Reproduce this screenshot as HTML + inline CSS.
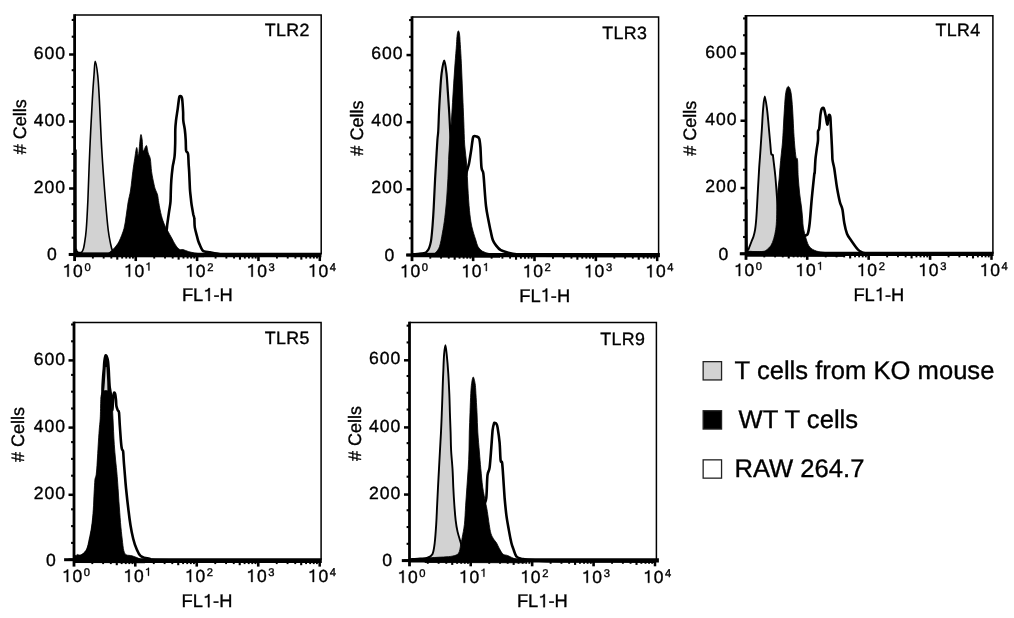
<!DOCTYPE html>
<html><head><meta charset="utf-8"><title>TLR expression histograms</title>
<style>
html,body{margin:0;padding:0;background:#fff;overflow:hidden;}
svg{display:block;will-change:transform;}
text{font-family:"Liberation Sans", sans-serif;fill:#000;stroke:#000;stroke-width:0.35px;}
</style></head>
<body>
<svg width="1014" height="618" viewBox="0 0 1014 618" text-rendering="geometricPrecision">
<defs><path id="g1" d="M360 0L360-709L290-709C276-652 230-602 108-592L108-516C194-520 240-538 277-562L277 0Z" fill="#000" stroke="#000"/></defs>
<rect width="1014" height="618" fill="#fff"/>
<path d="M75.9 150.0 C75.9 165.0 75.9 223.4 76.0 240.0 C76.0 256.6 76.1 247.5 76.4 249.5 C76.7 251.5 77.2 251.6 77.8 252.1 C78.4 252.6 79.3 252.7 80.0 252.6 C80.7 252.5 81.4 252.3 82.0 251.7 C82.6 251.1 83.0 250.1 83.4 248.8 C83.8 247.5 83.9 247.1 84.4 244.0 C84.9 240.9 85.6 237.3 86.2 230.0 C86.8 222.7 87.3 213.3 87.9 200.0 C88.5 186.7 89.0 166.9 89.8 150.0 C90.5 133.1 91.7 111.0 92.4 98.5 C93.1 86.0 93.5 81.2 94.0 75.0 C94.5 68.8 94.6 61.3 95.2 61.3 C95.8 61.3 97.0 68.8 97.7 75.0 C98.4 81.2 98.6 86.0 99.3 98.5 C100.0 111.0 100.8 133.1 101.8 150.0 C102.8 166.9 104.3 186.7 105.4 200.0 C106.5 213.3 107.3 222.7 108.2 230.0 C109.1 237.3 109.9 240.5 110.6 244.0 C111.3 247.5 111.8 249.4 112.6 251.0 C113.4 252.6 115.0 252.9 115.5 253.3 L75.9 253.3Z" fill="#d2d2d2" stroke="#000" stroke-width="1.6" stroke-linejoin="round"/>
<path d="M160.0 250.0 C160.7 248.3 162.9 243.2 164.0 240.0 C165.1 236.8 165.9 233.2 166.5 230.6 C167.1 227.9 166.9 227.1 167.3 224.1 C167.7 221.1 168.5 215.7 168.9 212.8 C169.3 210.0 169.5 208.9 169.8 207.0 C170.1 205.1 170.3 204.0 170.5 201.5 C170.7 199.0 170.7 195.5 170.8 192.0 C170.9 188.5 171.0 184.6 171.3 180.5 C171.6 176.4 172.2 170.6 172.6 167.5 C173.0 164.4 173.3 163.9 173.6 162.0 C173.9 160.1 174.3 159.2 174.6 156.0 C174.9 152.8 175.1 147.4 175.2 143.0 C175.3 138.6 175.2 133.2 175.3 129.5 C175.4 125.8 175.6 124.2 176.0 120.6 C176.4 117.0 177.4 111.4 177.8 108.1 C178.2 104.8 178.4 102.9 178.7 101.0 C179.0 99.1 179.1 97.2 179.5 96.5 C179.9 95.8 180.9 96.0 181.3 96.5 C181.8 97.0 181.9 96.7 182.2 99.2 C182.5 101.7 182.9 108.1 183.1 111.7 C183.3 115.3 183.0 117.6 183.3 120.6 C183.6 123.6 184.4 126.3 184.8 129.5 C185.2 132.7 185.5 136.5 185.7 140.0 C185.9 143.5 185.8 148.5 186.1 150.6 C186.4 152.7 187.1 151.6 187.4 152.3 C187.8 153.0 188.0 152.9 188.2 155.0 C188.4 157.1 188.5 162.1 188.7 165.0 C188.9 167.9 189.0 168.5 189.2 172.4 C189.4 176.3 189.7 184.6 189.9 188.5 C190.1 192.4 190.3 193.3 190.6 196.0 C190.9 198.7 191.1 201.6 191.6 204.7 C192.1 207.8 192.9 212.2 193.3 214.5 C193.8 216.8 194.1 216.3 194.3 218.5 C194.6 220.7 194.3 224.3 194.8 227.4 C195.3 230.5 196.6 234.7 197.2 237.1 C197.8 239.5 198.0 240.4 198.6 242.0 C199.2 243.6 199.9 245.1 200.5 246.5 C201.1 247.9 201.7 249.3 202.4 250.2 C203.1 251.0 203.2 251.2 204.5 251.6 C205.8 252.0 207.9 252.1 210.0 252.4 C212.1 252.7 213.1 253.2 216.8 253.6 C220.5 254.0 214.8 254.7 232.0 255.0 C249.2 255.3 305.3 255.3 320.0 255.4" fill="none" stroke="#000" stroke-width="2.6" stroke-linejoin="round"/>
<path d="M104.0 256.5 C105.0 255.8 108.2 253.5 110.0 252.0 C111.8 250.5 113.1 249.5 114.6 247.7 C116.1 245.9 117.5 244.5 119.1 241.3 C120.7 238.1 122.8 232.8 124.0 228.5 C125.2 224.2 125.5 219.9 126.2 215.6 C126.9 211.3 127.3 207.1 128.0 202.8 C128.7 198.5 129.8 195.2 130.6 190.0 C131.4 184.8 132.1 176.9 132.8 171.7 C133.5 166.5 134.0 162.8 134.7 158.8 C135.3 154.8 136.1 148.0 136.7 147.5 C137.3 147.0 137.8 157.2 138.3 156.0 C138.9 154.8 139.6 143.6 140.0 140.0 C140.4 136.4 140.6 134.5 141.0 134.5 C141.4 134.5 141.8 137.2 142.2 140.0 C142.6 142.8 142.5 150.1 143.2 151.0 C143.9 151.9 145.6 145.2 146.4 145.5 C147.2 145.8 147.5 150.8 148.2 153.0 C148.8 155.2 149.7 155.7 150.3 158.8 C150.9 161.9 151.0 167.4 151.6 171.7 C152.2 176.0 153.4 181.6 154.1 184.7 C154.8 187.8 155.0 188.3 155.6 190.0 C156.2 191.7 157.1 192.9 157.6 195.0 C158.1 197.1 158.2 199.4 158.8 202.8 C159.4 206.2 160.4 211.9 161.4 215.6 C162.4 219.3 163.5 222.4 164.6 225.0 C165.7 227.6 166.6 228.8 167.8 231.0 C169.0 233.2 170.4 235.7 171.7 238.0 C173.0 240.3 174.2 243.1 175.5 245.0 C176.8 246.9 178.1 248.5 179.4 249.3 C180.7 250.1 181.7 249.2 183.2 249.6 C184.7 250.0 186.4 250.9 188.3 251.5 C190.2 252.1 192.8 252.6 194.7 253.0 C196.6 253.4 198.4 253.4 200.0 254.0 C201.6 254.6 203.3 256.2 204.0 256.7Z" fill="#000" stroke="#000" stroke-width="0.8" stroke-linejoin="round"/>
<path d="M74.6 14.95H321.2V254.45" fill="none" stroke="#000" stroke-width="1.5"/>
<path d="M74.6 14.2V261.05" stroke="#000" stroke-width="2.8"/>
<path d="M68.7 254.45H74.6" stroke="#000" stroke-width="3.0"/>
<path d="M74.6 255.05H321.4" stroke="#000" stroke-width="4.4"/>
<path d="M69.1 254.45H74.6" stroke="#000" stroke-width="2.5"/>
<path d="M71.7 237.7H74.6" stroke="#000" stroke-width="2.1"/>
<path d="M71.7 220.95H74.6" stroke="#000" stroke-width="2.1"/>
<path d="M71.7 204.2H74.6" stroke="#000" stroke-width="2.1"/>
<path d="M69.1 188.5H74.6" stroke="#000" stroke-width="2.5"/>
<path d="M71.7 170.7H74.6" stroke="#000" stroke-width="2.1"/>
<path d="M71.7 153.95H74.6" stroke="#000" stroke-width="2.1"/>
<path d="M71.7 137.2H74.6" stroke="#000" stroke-width="2.1"/>
<path d="M69.1 121.5H74.6" stroke="#000" stroke-width="2.5"/>
<path d="M71.7 103.7H74.6" stroke="#000" stroke-width="2.1"/>
<path d="M71.7 86.95H74.6" stroke="#000" stroke-width="2.1"/>
<path d="M71.7 70.2H74.6" stroke="#000" stroke-width="2.1"/>
<path d="M69.1 54.5H74.6" stroke="#000" stroke-width="2.5"/>
<path d="M71.7 36.7H74.6" stroke="#000" stroke-width="2.1"/>
<path d="M71.7 19.95H74.6" stroke="#000" stroke-width="2.1"/>
<path d="M92.87 254.45V258.55" stroke="#000" stroke-width="1.9"/>
<path d="M103.67 254.45V258.55" stroke="#000" stroke-width="1.9"/>
<path d="M111.34 254.45V258.55" stroke="#000" stroke-width="1.9"/>
<path d="M117.28 254.45V259.65" stroke="#000" stroke-width="2.1"/>
<path d="M122.14 254.45V258.55" stroke="#000" stroke-width="1.9"/>
<path d="M126.25 254.45V258.55" stroke="#000" stroke-width="1.9"/>
<path d="M129.8 254.45V258.55" stroke="#000" stroke-width="1.9"/>
<path d="M132.94 254.45V258.55" stroke="#000" stroke-width="1.9"/>
<path d="M135.75 254.45V261.05" stroke="#000" stroke-width="2.6"/>
<path d="M154.22 254.45V258.55" stroke="#000" stroke-width="1.9"/>
<path d="M165.02 254.45V258.55" stroke="#000" stroke-width="1.9"/>
<path d="M172.69 254.45V258.55" stroke="#000" stroke-width="1.9"/>
<path d="M178.63 254.45V259.65" stroke="#000" stroke-width="2.1"/>
<path d="M183.49 254.45V258.55" stroke="#000" stroke-width="1.9"/>
<path d="M187.6 254.45V258.55" stroke="#000" stroke-width="1.9"/>
<path d="M191.15 254.45V258.55" stroke="#000" stroke-width="1.9"/>
<path d="M194.29 254.45V258.55" stroke="#000" stroke-width="1.9"/>
<path d="M197.1 254.45V261.05" stroke="#000" stroke-width="2.6"/>
<path d="M215.57 254.45V258.55" stroke="#000" stroke-width="1.9"/>
<path d="M226.37 254.45V258.55" stroke="#000" stroke-width="1.9"/>
<path d="M234.04 254.45V258.55" stroke="#000" stroke-width="1.9"/>
<path d="M239.98 254.45V259.65" stroke="#000" stroke-width="2.1"/>
<path d="M244.84 254.45V258.55" stroke="#000" stroke-width="1.9"/>
<path d="M248.95 254.45V258.55" stroke="#000" stroke-width="1.9"/>
<path d="M252.5 254.45V258.55" stroke="#000" stroke-width="1.9"/>
<path d="M255.64 254.45V258.55" stroke="#000" stroke-width="1.9"/>
<path d="M258.45 254.45V261.05" stroke="#000" stroke-width="2.6"/>
<path d="M276.92 254.45V258.55" stroke="#000" stroke-width="1.9"/>
<path d="M287.72 254.45V258.55" stroke="#000" stroke-width="1.9"/>
<path d="M295.39 254.45V258.55" stroke="#000" stroke-width="1.9"/>
<path d="M301.33 254.45V259.65" stroke="#000" stroke-width="2.1"/>
<path d="M306.19 254.45V258.55" stroke="#000" stroke-width="1.9"/>
<path d="M310.3 254.45V258.55" stroke="#000" stroke-width="1.9"/>
<path d="M313.85 254.45V258.55" stroke="#000" stroke-width="1.9"/>
<path d="M316.99 254.45V258.55" stroke="#000" stroke-width="1.9"/>
<path d="M319.8 254.45V261.05" stroke="#000" stroke-width="2.5"/>
<text transform="translate(47.1 260.02)" letter-spacing="1.0" font-size="17.6">0</text>
<text transform="translate(33.73 192.62)" letter-spacing="1.0" font-size="17.6">200</text>
<text transform="translate(33.73 125.62)" letter-spacing="1.0" font-size="17.6">400</text>
<text transform="translate(33.73 58.62)" letter-spacing="1.0" font-size="17.6">600</text>
<use href="#g1" transform="translate(62.47 276.7) scale(0.01750)" stroke-width="20.0"/>
<text transform="translate(73.11 276.7)" font-size="17.5">0</text>
<text transform="translate(84.45 270.5)" font-size="11.2">0</text>
<use href="#g1" transform="translate(123.83 276.7) scale(0.01750)" stroke-width="20.0"/>
<text transform="translate(134.46 276.7)" font-size="17.5">0</text>
<use href="#g1" transform="translate(145.37 270.5) scale(0.01120)" stroke-width="31.2"/>
<use href="#g1" transform="translate(185.18 276.7) scale(0.01750)" stroke-width="20.0"/>
<text transform="translate(195.81 276.7)" font-size="17.5">0</text>
<text transform="translate(207.15 270.5)" font-size="11.2">2</text>
<use href="#g1" transform="translate(246.52 276.7) scale(0.01750)" stroke-width="20.0"/>
<text transform="translate(257.15 276.7)" font-size="17.5">0</text>
<text transform="translate(268.5 270.5)" font-size="11.2">3</text>
<use href="#g1" transform="translate(307.88 276.7) scale(0.01750)" stroke-width="20.0"/>
<text transform="translate(318.5 276.7)" font-size="17.5">0</text>
<text transform="translate(329.85 270.5)" font-size="11.2">4</text>
<text transform="translate(181.88 301)" font-size="18.3">FL</text>
<use href="#g1" transform="translate(203.24 301) scale(0.01830)" stroke-width="19.1"/>
<text transform="translate(213.41 301)" font-size="18.3">-H</text>
<text transform="translate(26 126.85) rotate(-90)" text-anchor="middle" font-size="18">#&#160;Cells</text>
<text transform="translate(309.89 36.15)" text-anchor="end" letter-spacing="0.4" font-size="17.8">TLR2</text>
<path d="M413.0 254.2 C414.2 254.1 418.0 253.9 420.0 253.7 C422.0 253.5 423.8 253.3 425.0 252.9 C426.2 252.5 426.4 252.0 427.0 251.3 C427.6 250.6 428.4 249.6 428.9 248.5 C429.4 247.4 429.8 246.1 430.2 244.5 C430.6 242.9 430.9 242.1 431.3 238.8 C431.7 235.6 432.2 230.2 432.6 225.0 C433.0 219.8 433.3 215.5 433.7 207.8 C434.1 200.1 434.7 185.9 435.1 178.8 C435.5 171.7 435.5 171.7 435.9 165.2 C436.3 158.7 437.0 145.6 437.4 140.0 C437.8 134.4 437.9 136.2 438.2 131.6 C438.5 127.0 438.7 118.7 439.0 112.2 C439.3 105.7 439.7 99.3 440.1 92.8 C440.5 86.3 440.9 78.8 441.6 73.4 C442.3 68.0 443.4 60.5 444.2 60.5 C445.0 60.5 445.9 68.0 446.5 73.4 C447.1 78.8 447.4 86.3 447.9 92.8 C448.3 99.3 448.8 105.7 449.2 112.2 C449.6 118.7 449.9 125.3 450.2 131.6 C450.5 137.9 450.7 141.9 451.0 150.0 C451.3 158.1 451.7 170.0 452.0 180.0 C452.3 190.0 452.5 200.0 453.0 210.0 C453.5 220.0 454.2 233.0 455.0 240.0 C455.8 247.0 456.8 249.8 458.0 252.0 C459.2 254.2 461.3 253.2 462.0 253.5Z" fill="#d2d2d2" stroke="#000" stroke-width="2.2" stroke-linejoin="round"/>
<path d="M462.0 200.0 C462.7 195.8 464.9 180.8 466.0 175.0 C467.1 169.2 468.0 167.7 468.6 165.3 C469.2 162.9 469.1 163.5 469.5 160.8 C469.9 158.2 470.8 152.8 471.3 149.4 C471.8 146.0 472.1 142.6 472.5 140.4 C472.9 138.2 472.8 137.2 473.5 136.5 C474.2 135.8 475.6 136.2 476.5 136.5 C477.4 136.8 478.6 136.8 479.2 138.6 C479.8 140.4 480.0 142.4 480.4 147.2 C480.8 152.0 481.0 163.2 481.5 167.5 C482.0 171.8 482.8 169.8 483.3 173.2 C483.8 176.6 484.1 182.4 484.5 187.9 C484.9 193.4 485.4 200.7 486.0 206.0 C486.6 211.3 487.5 215.4 488.3 219.6 C489.1 223.8 489.9 227.5 490.6 230.9 C491.4 234.3 491.9 237.6 492.8 240.0 C493.7 242.4 494.9 243.9 496.2 245.6 C497.5 247.3 498.9 249.1 500.8 250.2 C502.7 251.3 504.9 251.7 507.5 252.4 C510.1 253.1 511.2 253.9 516.6 254.4 C522.0 254.9 516.6 255.3 540.0 255.6 C563.4 255.9 637.5 255.9 657.0 256.0" fill="none" stroke="#000" stroke-width="2.6" stroke-linejoin="round"/>
<path d="M430.0 257.0 C430.9 256.2 434.1 254.1 435.7 252.4 C437.3 250.7 438.4 249.8 439.5 246.6 C440.6 243.4 441.5 237.8 442.4 233.0 C443.3 228.2 444.1 223.3 444.8 217.5 C445.5 211.7 446.2 204.5 446.7 198.1 C447.2 191.7 447.6 185.2 447.9 178.8 C448.2 172.4 448.3 165.5 448.6 159.4 C448.9 153.3 449.2 148.2 449.6 142.0 C450.1 135.8 450.8 128.5 451.3 121.9 C451.8 115.3 452.1 109.0 452.5 102.5 C452.9 96.0 453.3 89.5 453.7 83.1 C454.1 76.6 454.5 70.2 455.0 63.8 C455.5 57.3 456.2 48.9 456.5 44.4 C456.8 39.9 456.8 38.5 457.0 36.5 C457.2 34.5 457.4 33.2 457.6 32.3 C457.8 31.4 458.1 30.9 458.4 30.9 C458.7 30.9 459.0 31.4 459.2 32.3 C459.4 33.2 459.6 34.5 459.8 36.5 C460.0 38.5 460.0 39.9 460.3 44.4 C460.6 48.9 461.1 57.3 461.4 63.8 C461.7 70.2 461.9 76.6 462.2 83.1 C462.5 89.5 462.7 96.0 463.0 102.5 C463.3 109.0 463.5 114.8 463.8 121.9 C464.1 129.0 464.2 137.8 464.7 145.0 C465.2 152.2 466.3 158.2 466.8 165.3 C467.3 172.5 467.4 180.4 467.9 187.9 C468.3 195.4 468.9 204.6 469.5 210.6 C470.1 216.6 470.6 220.2 471.3 224.0 C472.0 227.8 472.9 230.5 473.6 233.2 C474.4 235.9 475.1 237.7 475.8 240.0 C476.6 242.3 477.0 244.9 478.1 246.8 C479.2 248.7 480.7 250.2 482.6 251.3 C484.5 252.4 487.3 253.1 489.4 253.6 C491.5 254.1 493.2 253.9 495.0 254.5 C496.8 255.1 499.2 256.8 500.0 257.2Z" fill="#000" stroke="#000" stroke-width="0.8" stroke-linejoin="round"/>
<path d="M412 17.05H658.6V255" fill="none" stroke="#000" stroke-width="1.5"/>
<path d="M412 16.3V261.13" stroke="#000" stroke-width="2.8"/>
<path d="M406.2 255H412" stroke="#000" stroke-width="3.0"/>
<path d="M412 255.13H659.9" stroke="#000" stroke-width="4.1"/>
<path d="M406.5 255H412" stroke="#000" stroke-width="2.5"/>
<path d="M409.1 238.22H412" stroke="#000" stroke-width="2.1"/>
<path d="M409.1 221.44H412" stroke="#000" stroke-width="2.1"/>
<path d="M409.1 204.66H412" stroke="#000" stroke-width="2.1"/>
<path d="M406.5 189.3H412" stroke="#000" stroke-width="2.5"/>
<path d="M409.1 171.09H412" stroke="#000" stroke-width="2.1"/>
<path d="M409.1 154.31H412" stroke="#000" stroke-width="2.1"/>
<path d="M409.1 137.53H412" stroke="#000" stroke-width="2.1"/>
<path d="M406.5 122.18H412" stroke="#000" stroke-width="2.5"/>
<path d="M409.1 103.97H412" stroke="#000" stroke-width="2.1"/>
<path d="M409.1 87.19H412" stroke="#000" stroke-width="2.1"/>
<path d="M409.1 70.41H412" stroke="#000" stroke-width="2.1"/>
<path d="M406.5 55.05H412" stroke="#000" stroke-width="2.5"/>
<path d="M409.1 36.84H412" stroke="#000" stroke-width="2.1"/>
<path d="M409.1 20.06H412" stroke="#000" stroke-width="2.1"/>
<path d="M430.27 255V258.63" stroke="#000" stroke-width="1.9"/>
<path d="M441.07 255V258.63" stroke="#000" stroke-width="1.9"/>
<path d="M448.74 255V258.63" stroke="#000" stroke-width="1.9"/>
<path d="M454.68 255V259.73" stroke="#000" stroke-width="2.1"/>
<path d="M459.54 255V258.63" stroke="#000" stroke-width="1.9"/>
<path d="M463.65 255V258.63" stroke="#000" stroke-width="1.9"/>
<path d="M467.2 255V258.63" stroke="#000" stroke-width="1.9"/>
<path d="M470.34 255V258.63" stroke="#000" stroke-width="1.9"/>
<path d="M473.15 255V261.13" stroke="#000" stroke-width="2.6"/>
<path d="M491.62 255V258.63" stroke="#000" stroke-width="1.9"/>
<path d="M502.42 255V258.63" stroke="#000" stroke-width="1.9"/>
<path d="M510.09 255V258.63" stroke="#000" stroke-width="1.9"/>
<path d="M516.03 255V259.73" stroke="#000" stroke-width="2.1"/>
<path d="M520.89 255V258.63" stroke="#000" stroke-width="1.9"/>
<path d="M525 255V258.63" stroke="#000" stroke-width="1.9"/>
<path d="M528.55 255V258.63" stroke="#000" stroke-width="1.9"/>
<path d="M531.69 255V258.63" stroke="#000" stroke-width="1.9"/>
<path d="M534.5 255V261.13" stroke="#000" stroke-width="2.6"/>
<path d="M552.97 255V258.63" stroke="#000" stroke-width="1.9"/>
<path d="M563.77 255V258.63" stroke="#000" stroke-width="1.9"/>
<path d="M571.44 255V258.63" stroke="#000" stroke-width="1.9"/>
<path d="M577.38 255V259.73" stroke="#000" stroke-width="2.1"/>
<path d="M582.24 255V258.63" stroke="#000" stroke-width="1.9"/>
<path d="M586.35 255V258.63" stroke="#000" stroke-width="1.9"/>
<path d="M589.9 255V258.63" stroke="#000" stroke-width="1.9"/>
<path d="M593.04 255V258.63" stroke="#000" stroke-width="1.9"/>
<path d="M595.85 255V261.13" stroke="#000" stroke-width="2.6"/>
<path d="M614.32 255V258.63" stroke="#000" stroke-width="1.9"/>
<path d="M625.12 255V258.63" stroke="#000" stroke-width="1.9"/>
<path d="M632.79 255V258.63" stroke="#000" stroke-width="1.9"/>
<path d="M638.73 255V259.73" stroke="#000" stroke-width="2.1"/>
<path d="M643.59 255V258.63" stroke="#000" stroke-width="1.9"/>
<path d="M647.7 255V258.63" stroke="#000" stroke-width="1.9"/>
<path d="M651.25 255V258.63" stroke="#000" stroke-width="1.9"/>
<path d="M654.39 255V258.63" stroke="#000" stroke-width="1.9"/>
<path d="M657.2 255V261.13" stroke="#000" stroke-width="2.5"/>
<text transform="translate(384.4 260.92)" letter-spacing="1.0" font-size="17.6">0</text>
<text transform="translate(371.23 193.42)" letter-spacing="1.0" font-size="17.6">200</text>
<text transform="translate(371.23 126.3)" letter-spacing="1.0" font-size="17.6">400</text>
<text transform="translate(371.23 59.17)" letter-spacing="1.0" font-size="17.6">600</text>
<use href="#g1" transform="translate(399.88 277.25) scale(0.01750)" stroke-width="20.0"/>
<text transform="translate(410.5 277.25)" font-size="17.5">0</text>
<text transform="translate(421.85 271.05)" font-size="11.2">0</text>
<use href="#g1" transform="translate(461.23 277.25) scale(0.01750)" stroke-width="20.0"/>
<text transform="translate(471.86 277.25)" font-size="17.5">0</text>
<use href="#g1" transform="translate(482.77 271.05) scale(0.01120)" stroke-width="31.2"/>
<use href="#g1" transform="translate(522.58 277.25) scale(0.01750)" stroke-width="20.0"/>
<text transform="translate(533.21 277.25)" font-size="17.5">0</text>
<text transform="translate(544.55 271.05)" font-size="11.2">2</text>
<use href="#g1" transform="translate(583.93 277.25) scale(0.01750)" stroke-width="20.0"/>
<text transform="translate(594.56 277.25)" font-size="17.5">0</text>
<text transform="translate(605.9 271.05)" font-size="11.2">3</text>
<use href="#g1" transform="translate(645.28 277.25) scale(0.01750)" stroke-width="20.0"/>
<text transform="translate(655.91 277.25)" font-size="17.5">0</text>
<text transform="translate(667.25 271.05)" font-size="11.2">4</text>
<text transform="translate(519.28 301.55)" font-size="18.3">FL</text>
<use href="#g1" transform="translate(540.64 301.55) scale(0.01830)" stroke-width="19.1"/>
<text transform="translate(550.81 301.55)" font-size="18.3">-H</text>
<text transform="translate(363.4 128.12) rotate(-90)" text-anchor="middle" font-size="18">#&#160;Cells</text>
<text transform="translate(647.29 39.25)" text-anchor="end" letter-spacing="0.4" font-size="17.8">TLR3</text>
<path d="M746.6 200.0 C746.6 207.7 746.6 237.7 746.9 246.0 C747.1 254.3 747.6 249.8 748.1 249.8 C748.6 249.9 749.0 247.7 749.6 246.3 C750.2 244.9 750.9 243.1 751.5 241.5 C752.1 239.9 752.9 238.5 753.5 236.5 C754.1 234.5 754.6 232.6 755.1 229.6 C755.6 226.6 756.0 222.1 756.3 218.3 C756.6 214.5 756.7 211.7 757.0 207.0 C757.3 202.3 757.5 196.6 757.9 190.0 C758.3 183.4 758.8 174.4 759.2 167.4 C759.7 160.4 760.2 154.5 760.6 148.0 C761.0 141.5 761.5 135.0 761.9 128.5 C762.3 122.0 762.6 114.4 763.1 109.1 C763.6 103.8 764.1 96.4 764.8 96.4 C765.4 96.4 766.3 103.8 767.0 109.1 C767.7 114.4 768.4 122.7 768.9 128.5 C769.4 134.3 769.9 139.8 770.3 144.0 C770.7 148.2 770.8 152.0 771.2 153.8 C771.6 155.6 772.5 154.2 772.8 154.8 C773.1 155.5 772.8 154.0 773.2 157.7 C773.6 161.4 774.8 170.5 775.4 177.0 C776.0 183.5 776.5 191.0 776.9 196.5 C777.3 202.0 777.5 204.4 777.7 210.0 C777.9 215.6 778.0 223.3 778.2 230.0 C778.4 236.7 778.5 246.2 779.0 250.0 C779.5 253.8 780.7 252.1 781.0 252.5 L746.6 252.5Z" fill="#d2d2d2" stroke="#000" stroke-width="1.9" stroke-linejoin="round"/>
<path d="M800.0 240.0 C800.8 239.3 803.7 237.1 805.0 236.0 C806.3 234.9 807.0 235.9 807.8 233.7 C808.6 231.5 809.1 228.3 809.7 223.0 C810.3 217.7 810.8 209.7 811.5 201.7 C812.2 193.7 813.7 179.8 814.2 175.0 C814.7 170.2 814.5 175.2 814.7 172.7 C814.9 170.2 815.1 163.7 815.4 159.8 C815.7 155.9 816.3 152.7 816.7 149.4 C817.1 146.2 817.8 143.3 818.0 140.3 C818.2 137.3 817.8 133.2 818.0 131.3 C818.2 129.4 818.9 130.4 819.2 128.7 C819.5 127.0 819.7 123.3 819.9 120.9 C820.1 118.5 820.2 116.4 820.5 114.4 C820.8 112.5 821.1 110.2 821.6 109.2 C822.1 108.2 823.1 107.3 823.8 108.3 C824.4 109.3 824.9 112.3 825.5 115.0 C826.1 117.7 826.8 124.0 827.3 124.5 C827.8 125.0 827.9 119.6 828.2 118.0 C828.5 116.4 828.6 115.0 829.0 114.8 C829.4 114.6 830.0 114.9 830.3 117.0 C830.6 119.1 830.7 123.5 830.9 127.4 C831.1 131.3 831.4 136.0 831.6 140.3 C831.8 144.6 832.1 150.1 832.2 153.3 C832.4 156.6 832.2 157.4 832.5 159.8 C832.8 162.2 833.6 165.0 834.1 167.5 C834.6 170.0 834.7 171.5 835.2 175.0 C835.7 178.5 836.3 183.9 837.1 188.3 C837.9 192.8 838.9 198.1 839.8 201.7 C840.7 205.3 841.8 206.1 842.5 209.7 C843.2 213.2 843.5 219.0 844.3 223.0 C845.0 227.0 845.9 230.8 847.0 233.7 C848.1 236.6 849.5 238.1 851.0 240.3 C852.5 242.5 854.5 245.3 855.8 247.0 C857.1 248.7 857.3 249.4 859.0 250.5 C860.7 251.6 860.8 252.9 866.0 253.6 C871.2 254.3 869.0 254.4 890.0 254.6 C911.0 254.8 975.0 254.8 992.0 254.8" fill="none" stroke="#000" stroke-width="2.6" stroke-linejoin="round"/>
<path d="M747.0 256.3 C747.0 255.5 745.7 252.4 747.0 251.6 C748.3 250.8 752.3 251.6 755.0 251.6 C757.7 251.6 761.1 251.7 763.0 251.4 C764.9 251.1 765.1 251.0 766.4 250.0 C767.7 249.0 769.7 247.4 770.9 245.5 C772.1 243.6 772.9 241.3 773.7 238.7 C774.5 236.0 775.2 233.0 775.7 229.6 C776.2 226.2 776.4 223.0 776.6 218.3 C776.8 213.6 776.9 206.0 777.1 201.3 C777.3 196.6 777.6 193.6 777.9 190.0 C778.2 186.4 778.6 183.8 779.0 180.0 C779.4 176.2 779.6 171.8 780.0 167.4 C780.4 163.0 780.9 158.0 781.3 153.8 C781.7 149.6 782.2 146.2 782.5 142.0 C782.8 137.8 783.0 134.0 783.3 128.5 C783.6 123.0 784.0 115.1 784.4 109.1 C784.8 103.1 785.1 96.3 785.8 92.5 C786.4 88.7 787.4 86.4 788.3 86.4 C789.2 86.4 790.3 88.7 791.0 92.5 C791.7 96.3 792.2 103.1 792.6 109.1 C793.0 115.1 793.3 122.7 793.6 128.5 C793.9 134.3 794.2 139.1 794.6 144.0 C795.0 148.9 795.6 155.1 796.1 157.7 C796.6 160.3 797.1 156.4 797.5 159.6 C797.9 162.8 797.9 171.4 798.2 177.0 C798.6 182.6 799.1 188.0 799.6 193.0 C800.1 198.0 801.0 202.8 801.5 207.0 C802.0 211.2 802.3 214.8 802.6 218.3 C802.9 221.8 802.8 224.6 803.4 228.0 C804.0 231.4 805.2 235.8 806.2 239.0 C807.2 242.2 808.0 245.0 809.7 247.0 C811.4 249.0 813.8 250.1 816.3 251.0 C818.8 251.9 821.0 252.0 825.0 252.5 C829.0 253.0 836.7 253.3 840.0 254.0 C843.3 254.7 844.2 256.1 845.0 256.5Z" fill="#000" stroke="#000" stroke-width="0.8" stroke-linejoin="round"/>
<path d="M746 15.75H992.9V253.8" fill="none" stroke="#000" stroke-width="1.5"/>
<path d="M746 15V259.85" stroke="#000" stroke-width="2.8"/>
<path d="M739.8 253.8H746" stroke="#000" stroke-width="3.0"/>
<path d="M746 253.85H993.6" stroke="#000" stroke-width="4.3"/>
<path d="M740.5 253.8H746" stroke="#000" stroke-width="2.5"/>
<path d="M743.1 236.99H746" stroke="#000" stroke-width="2.1"/>
<path d="M743.1 220.18H746" stroke="#000" stroke-width="2.1"/>
<path d="M743.1 203.36H746" stroke="#000" stroke-width="2.1"/>
<path d="M740.5 188H746" stroke="#000" stroke-width="2.5"/>
<path d="M743.1 169.74H746" stroke="#000" stroke-width="2.1"/>
<path d="M743.1 152.93H746" stroke="#000" stroke-width="2.1"/>
<path d="M743.1 136.11H746" stroke="#000" stroke-width="2.1"/>
<path d="M740.5 120.75H746" stroke="#000" stroke-width="2.5"/>
<path d="M743.1 102.49H746" stroke="#000" stroke-width="2.1"/>
<path d="M743.1 85.68H746" stroke="#000" stroke-width="2.1"/>
<path d="M743.1 68.86H746" stroke="#000" stroke-width="2.1"/>
<path d="M740.5 53.5H746" stroke="#000" stroke-width="2.5"/>
<path d="M743.1 35.24H746" stroke="#000" stroke-width="2.1"/>
<path d="M743.1 18.43H746" stroke="#000" stroke-width="2.1"/>
<path d="M764.29 253.8V257.35" stroke="#000" stroke-width="1.9"/>
<path d="M775.11 253.8V257.35" stroke="#000" stroke-width="1.9"/>
<path d="M782.78 253.8V257.35" stroke="#000" stroke-width="1.9"/>
<path d="M788.73 253.8V258.45" stroke="#000" stroke-width="2.1"/>
<path d="M793.6 253.8V257.35" stroke="#000" stroke-width="1.9"/>
<path d="M797.71 253.8V257.35" stroke="#000" stroke-width="1.9"/>
<path d="M801.27 253.8V257.35" stroke="#000" stroke-width="1.9"/>
<path d="M804.41 253.8V257.35" stroke="#000" stroke-width="1.9"/>
<path d="M807.22 253.8V259.85" stroke="#000" stroke-width="2.6"/>
<path d="M825.72 253.8V257.35" stroke="#000" stroke-width="1.9"/>
<path d="M836.53 253.8V257.35" stroke="#000" stroke-width="1.9"/>
<path d="M844.21 253.8V257.35" stroke="#000" stroke-width="1.9"/>
<path d="M850.16 253.8V258.45" stroke="#000" stroke-width="2.1"/>
<path d="M855.02 253.8V257.35" stroke="#000" stroke-width="1.9"/>
<path d="M859.14 253.8V257.35" stroke="#000" stroke-width="1.9"/>
<path d="M862.7 253.8V257.35" stroke="#000" stroke-width="1.9"/>
<path d="M865.84 253.8V257.35" stroke="#000" stroke-width="1.9"/>
<path d="M868.65 253.8V259.85" stroke="#000" stroke-width="2.6"/>
<path d="M887.14 253.8V257.35" stroke="#000" stroke-width="1.9"/>
<path d="M897.96 253.8V257.35" stroke="#000" stroke-width="1.9"/>
<path d="M905.63 253.8V257.35" stroke="#000" stroke-width="1.9"/>
<path d="M911.58 253.8V258.45" stroke="#000" stroke-width="2.1"/>
<path d="M916.45 253.8V257.35" stroke="#000" stroke-width="1.9"/>
<path d="M920.56 253.8V257.35" stroke="#000" stroke-width="1.9"/>
<path d="M924.12 253.8V257.35" stroke="#000" stroke-width="1.9"/>
<path d="M927.26 253.8V257.35" stroke="#000" stroke-width="1.9"/>
<path d="M930.08 253.8V259.85" stroke="#000" stroke-width="2.6"/>
<path d="M948.57 253.8V257.35" stroke="#000" stroke-width="1.9"/>
<path d="M959.38 253.8V257.35" stroke="#000" stroke-width="1.9"/>
<path d="M967.06 253.8V257.35" stroke="#000" stroke-width="1.9"/>
<path d="M973.01 253.8V258.45" stroke="#000" stroke-width="2.1"/>
<path d="M977.87 253.8V257.35" stroke="#000" stroke-width="1.9"/>
<path d="M981.99 253.8V257.35" stroke="#000" stroke-width="1.9"/>
<path d="M985.55 253.8V257.35" stroke="#000" stroke-width="1.9"/>
<path d="M988.69 253.8V257.35" stroke="#000" stroke-width="1.9"/>
<path d="M991.5 253.8V259.85" stroke="#000" stroke-width="2.5"/>
<text transform="translate(718.4 259.82)" letter-spacing="1.0" font-size="17.6">0</text>
<text transform="translate(705.23 192.12)" letter-spacing="1.0" font-size="17.6">200</text>
<text transform="translate(705.23 124.87)" letter-spacing="1.0" font-size="17.6">400</text>
<text transform="translate(705.23 57.62)" letter-spacing="1.0" font-size="17.6">600</text>
<use href="#g1" transform="translate(733.88 276.05) scale(0.01750)" stroke-width="20.0"/>
<text transform="translate(744.5 276.05)" font-size="17.5">0</text>
<text transform="translate(755.85 269.85)" font-size="11.2">0</text>
<use href="#g1" transform="translate(795.3 276.05) scale(0.01750)" stroke-width="20.0"/>
<text transform="translate(805.93 276.05)" font-size="17.5">0</text>
<use href="#g1" transform="translate(816.85 269.85) scale(0.01120)" stroke-width="31.2"/>
<use href="#g1" transform="translate(856.73 276.05) scale(0.01750)" stroke-width="20.0"/>
<text transform="translate(867.36 276.05)" font-size="17.5">0</text>
<text transform="translate(878.7 269.85)" font-size="11.2">2</text>
<use href="#g1" transform="translate(918.15 276.05) scale(0.01750)" stroke-width="20.0"/>
<text transform="translate(928.78 276.05)" font-size="17.5">0</text>
<text transform="translate(940.13 269.85)" font-size="11.2">3</text>
<use href="#g1" transform="translate(979.58 276.05) scale(0.01750)" stroke-width="20.0"/>
<text transform="translate(990.21 276.05)" font-size="17.5">0</text>
<text transform="translate(1001.55 269.85)" font-size="11.2">4</text>
<text transform="translate(853.43 300.75)" font-size="18.3">FL</text>
<use href="#g1" transform="translate(874.79 300.75) scale(0.01830)" stroke-width="19.1"/>
<text transform="translate(884.96 300.75)" font-size="18.3">-H</text>
<text transform="translate(696.2 128.18) rotate(-90)" text-anchor="middle" font-size="18">#&#160;Cells</text>
<text transform="translate(980.59 36.45)" text-anchor="end" letter-spacing="0.4" font-size="17.8">TLR4</text>
<path d="M82.0 555.0 C82.7 554.5 84.8 553.7 86.0 552.0 C87.2 550.3 88.0 548.7 89.0 545.0 C90.0 541.3 91.0 536.7 92.0 530.0 C93.0 523.3 94.2 513.3 95.0 505.0 C95.8 496.7 96.3 488.3 97.0 480.0 C97.7 471.7 98.3 463.3 99.0 455.0 C99.7 446.7 100.4 439.2 101.0 430.0 C101.6 420.8 102.1 406.9 102.5 400.0 C102.9 393.1 103.2 392.2 103.5 388.7 C103.8 385.2 104.0 383.1 104.2 379.0 C104.5 374.9 104.8 368.0 105.0 364.4 C105.2 360.8 105.4 358.2 105.7 357.5 C106.0 356.8 106.3 357.9 106.6 360.0 C106.9 362.1 107.2 366.7 107.4 370.0 C107.6 373.3 107.8 376.3 108.0 380.0 C108.2 383.7 108.1 387.0 108.4 392.0 C108.7 397.0 109.3 402.0 109.8 410.0 C110.3 418.0 110.7 430.0 111.2 440.0 C111.7 450.0 112.2 460.0 112.8 470.0 C113.4 480.0 114.1 491.7 114.8 500.0 C115.5 508.3 116.1 513.3 116.8 520.0 C117.5 526.7 118.1 535.0 118.8 540.0 C119.5 545.0 120.1 547.5 121.0 550.0 C121.9 552.5 123.5 554.2 124.0 555.0Z" fill="#d2d2d2" stroke="#000" stroke-width="1.7" stroke-linejoin="round"/>
<path d="M103.0 430.0 C102.9 425.8 102.7 411.9 102.6 405.0 C102.5 398.1 102.4 393.3 102.5 388.7 C102.6 384.1 102.9 380.8 103.1 377.4 C103.3 373.9 103.7 370.7 103.9 368.0 C104.1 365.3 104.1 363.3 104.4 361.2 C104.7 359.1 105.1 355.9 105.6 355.3 C106.0 354.7 106.7 356.5 107.1 357.5 C107.5 358.5 107.7 359.2 108.0 361.2 C108.3 363.2 108.5 366.6 108.7 369.3 C108.9 372.0 108.9 374.6 109.1 377.4 C109.2 380.2 109.4 383.6 109.6 386.0 C109.8 388.4 110.1 389.2 110.4 391.5 C110.7 393.8 111.1 396.9 111.4 400.0 C111.7 403.1 112.0 409.5 112.2 410.0 C112.5 410.5 112.7 405.3 112.9 403.0 C113.1 400.7 113.1 397.7 113.3 396.0 C113.5 394.3 113.8 392.9 114.1 392.6 C114.4 392.4 115.0 393.3 115.3 394.5 C115.6 395.7 115.8 398.1 116.0 400.0 C116.2 401.9 116.1 404.2 116.4 405.9 C116.7 407.6 117.4 409.3 117.8 410.4 C118.2 411.5 118.7 409.9 119.0 412.4 C119.3 414.9 119.5 421.0 119.8 425.3 C120.1 429.6 120.4 434.4 120.7 438.3 C121.0 442.2 121.4 446.5 121.8 448.6 C122.2 450.8 122.8 449.3 123.1 451.2 C123.4 453.1 123.5 456.9 123.7 460.0 C123.9 463.1 124.1 465.3 124.5 470.0 C124.9 474.7 125.3 481.0 126.0 488.0 C126.7 495.0 127.9 505.8 128.7 512.0 C129.4 518.2 129.8 520.8 130.5 525.3 C131.2 529.8 132.2 534.7 133.2 538.7 C134.2 542.7 135.4 546.4 136.7 549.3 C137.9 552.2 138.7 554.5 140.7 556.0 C142.7 557.5 143.8 557.9 148.7 558.6 C153.6 559.3 141.4 559.9 170.0 560.2 C198.6 560.5 295.0 560.5 320.0 560.6" fill="none" stroke="#000" stroke-width="2.6" stroke-linejoin="round"/>
<path d="M74.0 562.5 C74.0 561.4 73.6 557.2 74.0 556.0 C74.4 554.8 75.6 555.7 76.2 555.4 C76.8 555.1 77.2 554.5 77.6 554.4 C78.0 554.3 78.3 554.9 78.8 555.0 C79.3 555.1 79.9 555.1 80.5 554.9 C81.1 554.7 81.6 555.0 82.6 554.0 C83.6 553.0 85.6 551.5 86.7 549.0 C87.8 546.5 88.4 542.9 89.2 539.1 C90.0 535.3 91.0 531.0 91.7 526.0 C92.4 521.0 92.9 514.9 93.3 509.4 C93.7 503.9 93.8 497.9 94.1 493.0 C94.4 488.1 94.6 483.1 94.9 480.0 C95.2 476.9 95.8 477.5 96.2 474.5 C96.6 471.5 96.9 466.9 97.2 462.0 C97.5 457.1 97.9 450.3 98.2 445.0 C98.5 439.7 98.9 434.4 99.2 430.0 C99.5 425.6 99.9 423.9 100.2 418.8 C100.5 413.7 100.6 403.5 100.8 399.4 C101.0 395.3 101.2 395.3 101.6 394.0 C102.0 392.7 102.3 392.1 103.0 391.5 C103.7 390.9 104.8 390.6 105.6 390.5 C106.4 390.4 107.1 390.6 108.0 391.0 C108.9 391.4 110.5 390.5 111.2 393.0 C111.9 395.5 112.1 401.6 112.4 405.9 C112.7 410.2 112.8 414.5 113.0 418.8 C113.2 423.1 113.4 427.5 113.6 431.8 C113.8 436.1 114.0 440.0 114.3 444.7 C114.6 449.4 115.1 454.7 115.6 460.0 C116.1 465.3 116.7 469.6 117.2 476.5 C117.8 483.4 118.4 493.5 118.9 501.2 C119.5 508.9 120.0 516.3 120.5 522.6 C121.0 528.9 121.7 534.4 122.2 539.1 C122.8 543.8 123.1 548.1 123.8 550.7 C124.5 553.3 124.9 553.9 126.3 554.8 C127.7 555.6 129.7 555.1 132.0 555.8 C134.3 556.5 137.8 557.8 140.0 559.0 C142.2 560.2 144.2 562.2 145.0 562.8Z" fill="#000" stroke="#000" stroke-width="0.8" stroke-linejoin="round"/>
<path d="M104.3 367 L105 359 L105.7 356.5 L106.5 359 L107.7 367 Z" fill="#000"/>
<path d="M74 322.4H321.1V559.7" fill="none" stroke="#000" stroke-width="1.5"/>
<path d="M74 321.65V566.6" stroke="#000" stroke-width="2.8"/>
<path d="M64.1 559.7H74" stroke="#000" stroke-width="3.0"/>
<path d="M74 560.6H321.8" stroke="#000" stroke-width="4.8"/>
<path d="M68.5 559.7H74" stroke="#000" stroke-width="2.5"/>
<path d="M71.1 542.9H74" stroke="#000" stroke-width="2.1"/>
<path d="M71.1 526.1H74" stroke="#000" stroke-width="2.1"/>
<path d="M71.1 509.3H74" stroke="#000" stroke-width="2.1"/>
<path d="M68.5 494.8H74" stroke="#000" stroke-width="2.5"/>
<path d="M71.1 475.7H74" stroke="#000" stroke-width="2.1"/>
<path d="M71.1 458.9H74" stroke="#000" stroke-width="2.1"/>
<path d="M71.1 442.1H74" stroke="#000" stroke-width="2.1"/>
<path d="M68.5 427.6H74" stroke="#000" stroke-width="2.5"/>
<path d="M71.1 408.5H74" stroke="#000" stroke-width="2.1"/>
<path d="M71.1 391.7H74" stroke="#000" stroke-width="2.1"/>
<path d="M71.1 374.9H74" stroke="#000" stroke-width="2.1"/>
<path d="M68.5 360.4H74" stroke="#000" stroke-width="2.5"/>
<path d="M71.1 341.3H74" stroke="#000" stroke-width="2.1"/>
<path d="M71.1 324.5H74" stroke="#000" stroke-width="2.1"/>
<path d="M92.31 559.7V564.1" stroke="#000" stroke-width="1.9"/>
<path d="M103.13 559.7V564.1" stroke="#000" stroke-width="1.9"/>
<path d="M110.81 559.7V564.1" stroke="#000" stroke-width="1.9"/>
<path d="M116.77 559.7V565.2" stroke="#000" stroke-width="2.1"/>
<path d="M121.64 559.7V564.1" stroke="#000" stroke-width="1.9"/>
<path d="M125.75 559.7V564.1" stroke="#000" stroke-width="1.9"/>
<path d="M129.32 559.7V564.1" stroke="#000" stroke-width="1.9"/>
<path d="M132.46 559.7V564.1" stroke="#000" stroke-width="1.9"/>
<path d="M135.28 559.7V566.6" stroke="#000" stroke-width="2.6"/>
<path d="M153.78 559.7V564.1" stroke="#000" stroke-width="1.9"/>
<path d="M164.61 559.7V564.1" stroke="#000" stroke-width="1.9"/>
<path d="M172.29 559.7V564.1" stroke="#000" stroke-width="1.9"/>
<path d="M178.24 559.7V565.2" stroke="#000" stroke-width="2.1"/>
<path d="M183.11 559.7V564.1" stroke="#000" stroke-width="1.9"/>
<path d="M187.23 559.7V564.1" stroke="#000" stroke-width="1.9"/>
<path d="M190.79 559.7V564.1" stroke="#000" stroke-width="1.9"/>
<path d="M193.94 559.7V564.1" stroke="#000" stroke-width="1.9"/>
<path d="M196.75 559.7V566.6" stroke="#000" stroke-width="2.6"/>
<path d="M215.26 559.7V564.1" stroke="#000" stroke-width="1.9"/>
<path d="M226.08 559.7V564.1" stroke="#000" stroke-width="1.9"/>
<path d="M233.76 559.7V564.1" stroke="#000" stroke-width="1.9"/>
<path d="M239.72 559.7V565.2" stroke="#000" stroke-width="2.1"/>
<path d="M244.59 559.7V564.1" stroke="#000" stroke-width="1.9"/>
<path d="M248.7 559.7V564.1" stroke="#000" stroke-width="1.9"/>
<path d="M252.27 559.7V564.1" stroke="#000" stroke-width="1.9"/>
<path d="M255.41 559.7V564.1" stroke="#000" stroke-width="1.9"/>
<path d="M258.23 559.7V566.6" stroke="#000" stroke-width="2.6"/>
<path d="M276.73 559.7V564.1" stroke="#000" stroke-width="1.9"/>
<path d="M287.56 559.7V564.1" stroke="#000" stroke-width="1.9"/>
<path d="M295.24 559.7V564.1" stroke="#000" stroke-width="1.9"/>
<path d="M301.19 559.7V565.2" stroke="#000" stroke-width="2.1"/>
<path d="M306.06 559.7V564.1" stroke="#000" stroke-width="1.9"/>
<path d="M310.18 559.7V564.1" stroke="#000" stroke-width="1.9"/>
<path d="M313.74 559.7V564.1" stroke="#000" stroke-width="1.9"/>
<path d="M316.89 559.7V564.1" stroke="#000" stroke-width="1.9"/>
<path d="M319.7 559.7V566.6" stroke="#000" stroke-width="2.5"/>
<text transform="translate(46 565.87)" letter-spacing="1.0" font-size="17.6">0</text>
<text transform="translate(33.63 498.92)" letter-spacing="1.0" font-size="17.6">200</text>
<text transform="translate(33.63 431.72)" letter-spacing="1.0" font-size="17.6">400</text>
<text transform="translate(33.63 364.52)" letter-spacing="1.0" font-size="17.6">600</text>
<use href="#g1" transform="translate(61.88 581.95) scale(0.01750)" stroke-width="20.0"/>
<text transform="translate(72.51 581.95)" font-size="17.5">0</text>
<text transform="translate(83.85 575.75)" font-size="11.2">0</text>
<use href="#g1" transform="translate(123.35 581.95) scale(0.01750)" stroke-width="20.0"/>
<text transform="translate(133.98 581.95)" font-size="17.5">0</text>
<use href="#g1" transform="translate(144.9 575.75) scale(0.01120)" stroke-width="31.2"/>
<use href="#g1" transform="translate(184.82 581.95) scale(0.01750)" stroke-width="20.0"/>
<text transform="translate(195.45 581.95)" font-size="17.5">0</text>
<text transform="translate(206.8 575.75)" font-size="11.2">2</text>
<use href="#g1" transform="translate(246.3 581.95) scale(0.01750)" stroke-width="20.0"/>
<text transform="translate(256.93 581.95)" font-size="17.5">0</text>
<text transform="translate(268.28 575.75)" font-size="11.2">3</text>
<use href="#g1" transform="translate(307.78 581.95) scale(0.01750)" stroke-width="20.0"/>
<text transform="translate(318.41 581.95)" font-size="17.5">0</text>
<text transform="translate(329.75 575.75)" font-size="11.2">4</text>
<text transform="translate(181.53 607.25)" font-size="18.3">FL</text>
<use href="#g1" transform="translate(202.89 607.25) scale(0.01830)" stroke-width="19.1"/>
<text transform="translate(213.06 607.25)" font-size="18.3">-H</text>
<text transform="translate(24.2 434.5) rotate(-90)" text-anchor="middle" font-size="18">#&#160;Cells</text>
<text transform="translate(309.79 344.1)" text-anchor="end" letter-spacing="0.4" font-size="17.8">TLR5</text>
<path d="M412.0 559.0 C413.3 558.9 417.5 558.7 420.0 558.5 C422.5 558.3 424.8 558.6 426.9 557.9 C429.0 557.2 431.1 556.7 432.4 554.2 C433.7 551.7 434.1 548.0 434.7 543.0 C435.3 538.0 435.8 530.6 436.2 524.4 C436.6 518.2 436.8 512.0 437.1 505.8 C437.4 499.6 437.7 493.4 438.0 487.2 C438.3 481.0 438.7 474.8 439.0 468.6 C439.3 462.4 439.7 456.1 440.0 450.0 C440.3 443.9 440.7 438.3 441.0 432.1 C441.3 425.9 441.6 419.2 441.8 412.7 C442.1 406.2 442.3 399.8 442.5 393.3 C442.7 386.8 442.9 380.3 443.2 373.8 C443.5 367.3 443.7 359.2 444.1 354.4 C444.5 349.6 445.0 345.2 445.4 345.2 C445.8 345.2 446.2 349.6 446.7 354.4 C447.2 359.2 447.9 367.3 448.3 373.8 C448.7 380.3 449.0 386.8 449.3 393.3 C449.6 399.8 449.7 406.2 449.9 412.7 C450.1 419.2 450.4 425.9 450.6 432.1 C450.8 438.3 450.8 443.9 451.1 450.0 C451.4 456.1 452.1 462.4 452.5 468.6 C452.9 474.8 453.0 481.0 453.3 487.2 C453.6 493.4 454.0 500.2 454.4 505.8 C454.8 511.4 455.2 516.4 455.7 520.7 C456.2 525.1 456.8 528.5 457.6 531.9 C458.4 535.3 459.4 538.2 460.3 541.2 C461.2 544.2 462.1 547.5 463.0 550.0 C463.9 552.5 464.8 554.7 466.0 556.0 C467.2 557.3 469.3 557.7 470.0 558.0Z" fill="#d2d2d2" stroke="#000" stroke-width="1.9" stroke-linejoin="round"/>
<path d="M480.0 520.0 C480.7 517.5 482.9 508.7 484.0 505.0 C485.1 501.3 485.7 502.8 486.3 497.8 C486.9 492.8 486.9 480.2 487.5 475.2 C488.1 470.2 489.0 472.3 489.6 467.7 C490.2 463.1 490.8 453.9 491.3 447.6 C491.8 441.3 492.2 434.1 492.6 430.1 C493.1 426.1 493.6 424.7 494.0 423.5 C494.4 422.3 494.7 422.9 495.1 423.0 C495.5 423.1 496.1 423.2 496.5 424.0 C496.9 424.8 497.1 424.5 497.6 427.6 C498.1 430.7 499.1 437.2 499.6 442.6 C500.1 448.0 500.2 456.9 500.6 460.2 C501.0 463.5 501.7 460.2 502.1 462.7 C502.5 465.2 502.7 469.3 503.1 475.2 C503.5 481.1 504.1 491.1 504.6 497.8 C505.2 504.5 505.7 510.0 506.4 515.4 C507.1 520.8 508.1 525.8 508.9 530.4 C509.7 535.0 510.6 539.6 511.4 543.0 C512.2 546.4 513.1 548.2 513.9 550.5 C514.7 552.8 515.1 555.1 516.4 556.5 C517.6 557.9 518.3 558.1 521.4 558.8 C524.5 559.4 528.8 560.0 535.2 560.4 C541.6 560.8 539.9 561.2 560.0 561.4 C580.1 561.6 640.0 561.6 656.0 561.6" fill="none" stroke="#000" stroke-width="2.6" stroke-linejoin="round"/>
<path d="M425.0 562.5 C425.0 561.9 423.4 559.8 425.0 559.0 C426.6 558.2 431.2 557.8 434.3 557.5 C437.4 557.2 440.5 557.2 443.6 557.0 C446.7 556.8 450.4 556.6 452.9 556.0 C455.4 555.4 457.2 555.1 458.5 553.3 C459.8 551.4 460.1 547.5 460.7 544.9 C461.3 542.2 461.6 540.8 462.2 537.4 C462.8 534.0 463.8 529.7 464.4 524.4 C465.0 519.1 465.2 512.0 465.6 505.8 C466.0 499.6 466.5 493.4 466.9 487.2 C467.3 481.0 467.8 474.8 468.2 468.6 C468.6 462.4 468.8 456.1 469.0 450.0 C469.2 443.9 469.1 438.2 469.3 432.0 C469.5 425.8 469.8 419.1 470.0 412.7 C470.2 406.2 470.5 398.2 470.8 393.3 C471.1 388.4 471.2 386.2 471.6 383.5 C472.0 380.8 472.6 377.0 473.2 377.0 C473.8 377.0 474.7 380.8 475.1 383.5 C475.6 386.2 475.6 388.4 475.9 393.3 C476.2 398.2 476.7 406.2 477.0 412.7 C477.3 419.2 477.4 425.6 477.8 432.1 C478.2 438.7 478.9 445.9 479.4 452.0 C479.9 458.1 480.2 462.7 480.8 468.6 C481.4 474.5 481.9 481.6 482.7 487.2 C483.5 492.8 484.7 498.1 485.5 502.1 C486.3 506.1 486.7 507.7 487.3 511.4 C487.9 515.1 488.6 520.7 489.2 524.4 C489.8 528.1 490.2 531.2 491.0 533.7 C491.8 536.2 492.9 537.8 493.8 539.3 C494.7 540.8 495.7 541.5 496.6 543.0 C497.5 544.5 498.3 546.7 499.4 548.6 C500.5 550.5 501.7 553.1 503.1 554.2 C504.5 555.4 505.6 554.7 507.6 555.5 C509.6 556.3 513.0 558.2 515.1 559.0 C517.2 559.8 518.4 559.9 520.0 560.5 C521.6 561.1 524.2 562.4 525.0 562.8Z" fill="#000" stroke="#000" stroke-width="0.8" stroke-linejoin="round"/>
<path d="M409.5 322.45H656.4V560.6" fill="none" stroke="#000" stroke-width="1.5"/>
<path d="M409.5 321.7V566.3" stroke="#000" stroke-width="2.8"/>
<path d="M401.8 560.6H409.5" stroke="#000" stroke-width="3.0"/>
<path d="M409.5 560.3H658.9" stroke="#000" stroke-width="4.3"/>
<path d="M404 560.6H409.5" stroke="#000" stroke-width="2.5"/>
<path d="M406.6 543.82H409.5" stroke="#000" stroke-width="2.1"/>
<path d="M406.6 527.04H409.5" stroke="#000" stroke-width="2.1"/>
<path d="M406.6 510.26H409.5" stroke="#000" stroke-width="2.1"/>
<path d="M404 494.55H409.5" stroke="#000" stroke-width="2.5"/>
<path d="M406.6 476.69H409.5" stroke="#000" stroke-width="2.1"/>
<path d="M406.6 459.91H409.5" stroke="#000" stroke-width="2.1"/>
<path d="M406.6 443.13H409.5" stroke="#000" stroke-width="2.1"/>
<path d="M404 427.42H409.5" stroke="#000" stroke-width="2.5"/>
<path d="M406.6 409.57H409.5" stroke="#000" stroke-width="2.1"/>
<path d="M406.6 392.79H409.5" stroke="#000" stroke-width="2.1"/>
<path d="M406.6 376.01H409.5" stroke="#000" stroke-width="2.1"/>
<path d="M404 360.3H409.5" stroke="#000" stroke-width="2.5"/>
<path d="M406.6 342.44H409.5" stroke="#000" stroke-width="2.1"/>
<path d="M406.6 325.66H409.5" stroke="#000" stroke-width="2.1"/>
<path d="M427.79 560.6V563.8" stroke="#000" stroke-width="1.9"/>
<path d="M438.61 560.6V563.8" stroke="#000" stroke-width="1.9"/>
<path d="M446.28 560.6V563.8" stroke="#000" stroke-width="1.9"/>
<path d="M452.23 560.6V564.9" stroke="#000" stroke-width="2.1"/>
<path d="M457.1 560.6V563.8" stroke="#000" stroke-width="1.9"/>
<path d="M461.21 560.6V563.8" stroke="#000" stroke-width="1.9"/>
<path d="M464.77 560.6V563.8" stroke="#000" stroke-width="1.9"/>
<path d="M467.91 560.6V563.8" stroke="#000" stroke-width="1.9"/>
<path d="M470.73 560.6V566.3" stroke="#000" stroke-width="2.6"/>
<path d="M489.22 560.6V563.8" stroke="#000" stroke-width="1.9"/>
<path d="M500.03 560.6V563.8" stroke="#000" stroke-width="1.9"/>
<path d="M507.71 560.6V563.8" stroke="#000" stroke-width="1.9"/>
<path d="M513.66 560.6V564.9" stroke="#000" stroke-width="2.1"/>
<path d="M518.52 560.6V563.8" stroke="#000" stroke-width="1.9"/>
<path d="M522.64 560.6V563.8" stroke="#000" stroke-width="1.9"/>
<path d="M526.2 560.6V563.8" stroke="#000" stroke-width="1.9"/>
<path d="M529.34 560.6V563.8" stroke="#000" stroke-width="1.9"/>
<path d="M532.15 560.6V566.3" stroke="#000" stroke-width="2.6"/>
<path d="M550.64 560.6V563.8" stroke="#000" stroke-width="1.9"/>
<path d="M561.46 560.6V563.8" stroke="#000" stroke-width="1.9"/>
<path d="M569.13 560.6V563.8" stroke="#000" stroke-width="1.9"/>
<path d="M575.08 560.6V564.9" stroke="#000" stroke-width="2.1"/>
<path d="M579.95 560.6V563.8" stroke="#000" stroke-width="1.9"/>
<path d="M584.06 560.6V563.8" stroke="#000" stroke-width="1.9"/>
<path d="M587.62 560.6V563.8" stroke="#000" stroke-width="1.9"/>
<path d="M590.76 560.6V563.8" stroke="#000" stroke-width="1.9"/>
<path d="M593.58 560.6V566.3" stroke="#000" stroke-width="2.6"/>
<path d="M612.07 560.6V563.8" stroke="#000" stroke-width="1.9"/>
<path d="M622.88 560.6V563.8" stroke="#000" stroke-width="1.9"/>
<path d="M630.56 560.6V563.8" stroke="#000" stroke-width="1.9"/>
<path d="M636.51 560.6V564.9" stroke="#000" stroke-width="2.1"/>
<path d="M641.37 560.6V563.8" stroke="#000" stroke-width="1.9"/>
<path d="M645.49 560.6V563.8" stroke="#000" stroke-width="1.9"/>
<path d="M649.05 560.6V563.8" stroke="#000" stroke-width="1.9"/>
<path d="M652.19 560.6V563.8" stroke="#000" stroke-width="1.9"/>
<path d="M655 560.6V566.3" stroke="#000" stroke-width="2.5"/>
<text transform="translate(382.2 565.87)" letter-spacing="1.0" font-size="17.6">0</text>
<text transform="translate(368.93 498.67)" letter-spacing="1.0" font-size="17.6">200</text>
<text transform="translate(368.93 431.54)" letter-spacing="1.0" font-size="17.6">400</text>
<text transform="translate(368.93 364.42)" letter-spacing="1.0" font-size="17.6">600</text>
<use href="#g1" transform="translate(397.38 582.85) scale(0.01750)" stroke-width="20.0"/>
<text transform="translate(408 582.85)" font-size="17.5">0</text>
<text transform="translate(419.35 576.65)" font-size="11.2">0</text>
<use href="#g1" transform="translate(458.8 582.85) scale(0.01750)" stroke-width="20.0"/>
<text transform="translate(469.43 582.85)" font-size="17.5">0</text>
<use href="#g1" transform="translate(480.35 576.65) scale(0.01120)" stroke-width="31.2"/>
<use href="#g1" transform="translate(520.23 582.85) scale(0.01750)" stroke-width="20.0"/>
<text transform="translate(530.86 582.85)" font-size="17.5">0</text>
<text transform="translate(542.2 576.65)" font-size="11.2">2</text>
<use href="#g1" transform="translate(581.65 582.85) scale(0.01750)" stroke-width="20.0"/>
<text transform="translate(592.28 582.85)" font-size="17.5">0</text>
<text transform="translate(603.63 576.65)" font-size="11.2">3</text>
<use href="#g1" transform="translate(643.08 582.85) scale(0.01750)" stroke-width="20.0"/>
<text transform="translate(653.71 582.85)" font-size="17.5">0</text>
<text transform="translate(665.05 576.65)" font-size="11.2">4</text>
<text transform="translate(516.93 607.15)" font-size="18.3">FL</text>
<use href="#g1" transform="translate(538.29 607.15) scale(0.01830)" stroke-width="19.1"/>
<text transform="translate(548.46 607.15)" font-size="18.3">-H</text>
<text transform="translate(360.5 433.52) rotate(-90)" text-anchor="middle" font-size="18">#&#160;Cells</text>
<text transform="translate(645.39 344.95)" text-anchor="end" letter-spacing="0.4" font-size="17.8">TLR9</text>
<rect x="703.15" y="361.65" width="18.4" height="18.3" fill="#d3d3d3" stroke="#222" stroke-width="1.3"/>
<text x="734.6" y="378.7" font-size="25.6">T cells from KO mouse</text>
<rect x="703.15" y="410.75" width="18.4" height="18.3" fill="#000" stroke="#222" stroke-width="1.3"/>
<text x="738.6" y="428.2" font-size="25.6">WT T cells</text>
<rect x="703.15" y="459.85" width="18.4" height="18.3" fill="#fff" stroke="#222" stroke-width="1.3"/>
<text x="734.5" y="477.2" font-size="25.6">RAW 264.7</text>
</svg>
</body></html>
